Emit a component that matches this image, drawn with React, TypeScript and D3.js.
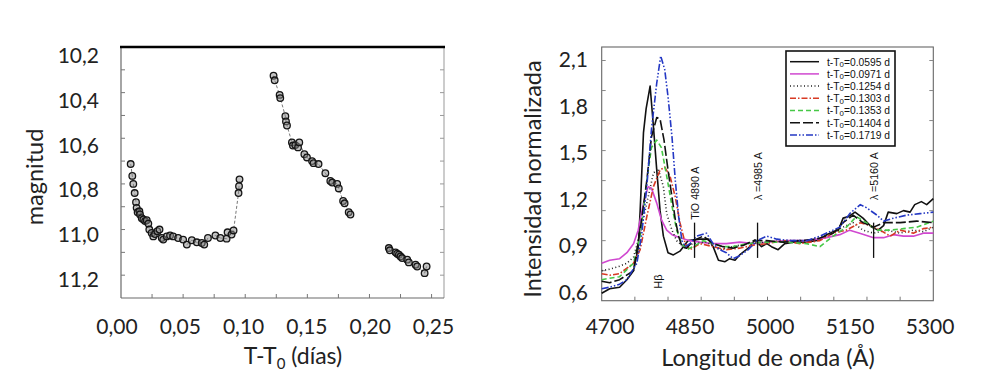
import React from "react";
import { scaleLinear, line, range } from "d3";

// light curve, three observing runs (T-T0 in days, magnitude)
const run1T = [0.0078, 0.0091, 0.0099, 0.011, 0.0121, 0.0126, 0.0134, 0.0148, 0.0153, 0.0167, 0.018, 0.0194, 0.0207, 0.022, 0.0228, 0.0247, 0.026, 0.0274, 0.0293, 0.031, 0.0328, 0.034, 0.0368, 0.0395, 0.042, 0.046, 0.05, 0.053, 0.057, 0.061, 0.065, 0.067, 0.07, 0.076, 0.08, 0.085, 0.0858, 0.089, 0.0906, 0.0946, 0.095, 0.0954];
const run1M = [10.713, 10.765, 10.8, 10.84, 10.88, 10.905, 10.924, 10.92, 10.934, 10.95, 10.956, 10.963, 10.959, 10.974, 11.0, 11.015, 11.03, 11.02, 11.007, 11.0, 11.037, 11.044, 11.03, 11.026, 11.03, 11.037, 11.044, 11.066, 11.047, 11.056, 11.059, 11.066, 11.037, 11.026, 11.037, 11.04, 11.012, 11.022, 11.004, 10.84, 10.81, 10.78];
const run2T = [0.1228, 0.1237, 0.1277, 0.1282, 0.1323, 0.1328, 0.1336, 0.1376, 0.1384, 0.1403, 0.1425, 0.1435, 0.1476, 0.1497, 0.1538, 0.155, 0.159, 0.1645, 0.1685, 0.17, 0.174, 0.1753, 0.1788, 0.18, 0.1833, 0.1847];
const run2M = [10.326, 10.346, 10.41, 10.424, 10.503, 10.526, 10.544, 10.618, 10.632, 10.63, 10.64, 10.618, 10.67, 10.684, 10.7, 10.709, 10.713, 10.753, 10.787, 10.794, 10.8, 10.82, 10.875, 10.885, 10.924, 10.934];
const run3T = [0.2156, 0.2164, 0.221, 0.2223, 0.2237, 0.225, 0.2263, 0.2304, 0.2317, 0.2371, 0.2384, 0.2444, 0.246];
const run3M = [11.081, 11.091, 11.1, 11.106, 11.11, 11.118, 11.125, 11.132, 11.144, 11.154, 11.162, 11.191, 11.162];

const lcYTicks = [10.2, 10.4, 10.6, 10.8, 11.0, 11.2];
const lcXTicks = [0, 0.05, 0.1, 0.15, 0.2, 0.25];

// spectra (wavelength in A, normalized intensity)
const wl0595 = [4750, 4762, 4777, 4788, 4798, 4805, 4808, 4813, 4817, 4823, 4828, 4833, 4838, 4843, 4850, 4858, 4868, 4880, 4898, 4911, 4918, 4926, 4936, 4943, 4951, 4958, 4971, 4981, 4991, 4999, 5006, 5016, 5026, 5039, 5059, 5079, 5089, 5099, 5107, 5114, 5122, 5132, 5144, 5157, 5167, 5175, 5182, 5195, 5205, 5215, 5222, 5232, 5240, 5250];
const in0595 = [0.65, 0.68, 0.69, 0.74, 0.8, 0.95, 1.2, 1.72, 1.88, 2.03, 1.76, 1.47, 1.2, 1.03, 0.92, 0.905, 0.93, 1.0, 1.01, 1.01, 0.96, 0.87, 0.86, 0.88, 0.87, 0.905, 0.95, 1.005, 0.96, 0.98, 0.96, 0.94, 0.98, 0.99, 0.99, 1.005, 1.04, 1.06, 1.07, 1.15, 1.16, 1.19, 1.15, 1.09, 1.07, 1.1, 1.19, 1.18, 1.2, 1.19, 1.24, 1.26, 1.24, 1.28];
const wl0971 = [4750, 4762, 4777, 4788, 4798, 4805, 4813, 4820, 4825, 4833, 4840, 4848, 4856, 4868, 4883, 4898, 4918, 4938, 4958, 4979, 4999, 5029, 5059, 5089, 5109, 5124, 5139, 5160, 5175, 5190, 5205, 5220, 5235, 5250];
const in0971 = [0.85, 0.87, 0.88, 0.92, 0.98, 1.07, 1.25, 1.36, 1.35, 1.25, 1.14, 1.07, 1.04, 1.02, 1.0, 0.99, 0.98, 0.98, 0.99, 0.98, 0.99, 1.0, 1.0, 1.02, 1.04, 1.07, 1.05, 1.02, 1.02, 1.04, 1.03, 1.03, 1.05, 1.05];
const wl1254 = [4750, 4762, 4777, 4788, 4798, 4808, 4818, 4828, 4835, 4843, 4848, 4856, 4863, 4873, 4888, 4908, 4928, 4948, 4969, 4999, 5029, 5059, 5089, 5114, 5129, 5144, 5160, 5180, 5200, 5220, 5235, 5250];
const in1254 = [0.8, 0.81, 0.83, 0.85, 0.89, 1.05, 1.25, 1.45, 1.48, 1.36, 1.18, 1.07, 1.0, 0.96, 0.98, 0.99, 0.94, 0.96, 0.98, 0.99, 1.0, 1.0, 1.03, 1.09, 1.12, 1.07, 1.05, 1.07, 1.05, 1.07, 1.06, 1.09];
const wl1303 = [4750, 4762, 4777, 4798, 4808, 4818, 4828, 4838, 4845, 4853, 4861, 4868, 4876, 4883, 4898, 4918, 4938, 4958, 4979, 4999, 5024, 5049, 5079, 5099, 5119, 5140, 5155, 5170, 5185, 5200, 5220, 5235, 5250];
const in1303 = [0.78, 0.77, 0.78, 0.85, 0.94, 1.16, 1.36, 1.47, 1.49, 1.43, 1.29, 1.12, 0.98, 0.94, 0.98, 0.96, 0.94, 0.95, 0.97, 0.98, 1.0, 0.98, 1.0, 1.05, 1.07, 1.12, 1.1, 1.07, 1.03, 1.07, 1.05, 1.08, 1.09];
const wl1353 = [4750, 4762, 4777, 4798, 4808, 4818, 4825, 4833, 4840, 4848, 4856, 4863, 4871, 4878, 4888, 4903, 4918, 4933, 4948, 4969, 4999, 5029, 5059, 5079, 5099, 5119, 5134, 5149, 5165, 5185, 5205, 5225, 5250];
const in1353 = [0.74, 0.75, 0.76, 0.85, 1.03, 1.4, 1.62, 1.67, 1.62, 1.43, 1.23, 1.07, 0.98, 0.94, 0.96, 1.0, 0.98, 0.96, 0.96, 0.98, 0.99, 0.99, 0.98, 0.96, 1.03, 1.09, 1.16, 1.12, 1.07, 1.07, 1.08, 1.09, 1.13];
const wl1404 = [4750, 4762, 4777, 4798, 4808, 4818, 4825, 4833, 4838, 4844, 4850, 4856, 4861, 4866, 4871, 4878, 4888, 4903, 4918, 4933, 4948, 4964, 4979, 4999, 5024, 5049, 5074, 5099, 5114, 5129, 5144, 5160, 5175, 5200, 5225, 5250];
const in1404 = [0.73, 0.72, 0.74, 0.8, 1.07, 1.4, 1.69, 1.82, 1.81, 1.67, 1.47, 1.29, 1.14, 1.03, 0.96, 0.95, 1.0, 1.03, 0.98, 0.96, 0.95, 0.97, 1.0, 1.0, 0.99, 1.0, 1.01, 1.05, 1.12, 1.17, 1.12, 1.09, 1.12, 1.12, 1.13, 1.12];
const wl1719 = [4750, 4762, 4777, 4788, 4803, 4810, 4818, 4825, 4833, 4839, 4845, 4850, 4856, 4861, 4866, 4871, 4876, 4883, 4893, 4908, 4918, 4928, 4938, 4948, 4958, 4971, 4984, 4999, 5014, 5034, 5059, 5079, 5099, 5109, 5124, 5140, 5149, 5165, 5175, 5190, 5210, 5230, 5250];
const in1719 = [0.68, 0.69, 0.71, 0.74, 0.85, 1.03, 1.36, 1.74, 2.05, 2.23, 2.14, 1.96, 1.69, 1.4, 1.16, 1.0, 0.96, 0.98, 1.03, 1.05, 0.98, 0.94, 0.92, 0.88, 0.9, 0.94, 1.0, 1.03, 1.01, 1.0, 1.0, 1.03, 1.07, 1.09, 1.18, 1.24, 1.22, 1.17, 1.13, 1.15, 1.17, 1.18, 1.19];

const epochs = ["0.0595", "0.0971", "0.1254", "0.1303", "0.1353", "0.1404", "0.1719"];
const specYTicks = [0.6, 0.9, 1.2, 1.5, 1.8, 2.1];
const specXTicks = [4700, 4850, 5000, 5150, 5300];

// marked features
const featureWl = [4890, 4985, 5160];
const featureText = ["TiO 4890 A", "\u03bb =4985 A", "\u03bb =5160 A"];

const series = [
  { wl: wl0595, v: in0595, color: "#111", dash: "none" },
  { wl: wl0971, v: in0971, color: "#d048d0", dash: "none" },
  { wl: wl1254, v: in1254, color: "#222", dash: "1,2.5" },
  { wl: wl1303, v: in1303, color: "#d83a24", dash: "6,2,1.5,2" },
  { wl: wl1353, v: in1353, color: "#46c846", dash: "5,3" },
  { wl: wl1404, v: in1404, color: "#111", dash: "10,3" },
  { wl: wl1719, v: in1719, color: "#2438c4", dash: "7,2,1.5,2,1.5,2" },
];

const FONT = "Lato, 'Open Sans', sans-serif";
const NARROW = "'Liberation Sans Narrow', 'Liberation Sans', Arial, sans-serif";

function LightCurve() {
  const x = scaleLinear().domain([0, 0.26]).range([121, 444]);
  const y = scaleLinear().domain([10.2, 11.3]).range([47, 298]);
  // the printed labels sit slightly off the ticks
  const xLab = scaleLinear().domain([0, 0.25]).range([117, 433.5]);
  const yLab = scaleLinear().domain([10.2, 11.2]).range([56, 279.5]);
  const runs = [
    [run1T, run1M],
    [run2T, run2M],
    [run3T, run3M],
  ];
  const path = line<number>()
    .x((d) => x(d[0]))
    .y((d) => y(d[1]));
  const yMinor = range(10.3, 11.25, 0.1);
  const xMinor = range(0.025, 0.26, 0.025);
  return (
    <g>
      <line x1={x(0)} x2={x(0)} y1={y(10.2)} y2={y(11.3)} stroke="#6a6a6a" strokeWidth={1.2} />
      <line x1={x(0.26)} x2={x(0.26)} y1={y(10.2)} y2={y(11.3)} stroke="#999" strokeWidth={1} />
      <line x1={x(0)} x2={x(0.26)} y1={y(11.3)} y2={y(11.3)} stroke="#6a6a6a" strokeWidth={1.2} />
      <line x1={x(0) - 1} x2={x(0.26) + 1} y1={y(10.2)} y2={y(10.2)} stroke="#000" strokeWidth={2.4} />
      {yMinor.map((v, i) => (
        <g key={"ym" + i}>
          <line x1={x(0)} x2={x(0) + 4} y1={y(v)} y2={y(v)} stroke="#777" />
          <line x1={x(0.26)} x2={x(0.26) - 4} y1={y(v)} y2={y(v)} stroke="#999" />
        </g>
      ))}
      {xMinor.map((v, i) => (
        <line key={"xm" + i} x1={x(v)} x2={x(v)} y1={y(11.3)} y2={y(11.3) - 4} stroke="#777" />
      ))}
      {runs.map(([ts, ms], i) => (
        <path
          key={"l" + i}
          d={path(ts.map((t, j) => [t, ms[j]])) || ""}
          fill="none"
          stroke="#555"
          strokeWidth={0.8}
          strokeDasharray="3,2"
        />
      ))}
      {runs.map(([ts, ms], i) =>
        ts.map((t, j) => (
          <circle
            key={"c" + i + "-" + j}
            cx={x(t)}
            cy={y(ms[j])}
            r={3.3}
            fill="#888"
            fillOpacity={0.5}
            stroke="#151515"
            strokeWidth={1.3}
          />
        ))
      )}
      {lcYTicks.map((v) => (
        <text key={"yl" + v} x={99} y={yLab(v)} dy="0.35em" textAnchor="end" fontFamily={FONT} fontSize={21} fill="#222">
          {v.toFixed(1).replace(".", ",")}
        </text>
      ))}
      {lcXTicks.map((v) => (
        <text key={"xl" + v} x={xLab(v)} y={334} textAnchor="middle" fontFamily={FONT} fontSize={21} fill="#222">
          {v.toFixed(2).replace(".", ",")}
        </text>
      ))}
      <text x={293} y={364} textAnchor="middle" fontFamily={FONT} fontSize={23} fill="#222">
        T-T<tspan fontSize={15} dy={5}>0</tspan>
        <tspan dy={-5}> (días)</tspan>
      </text>
      <text transform="translate(43,177) rotate(-90)" textAnchor="middle" fontFamily={FONT} fontSize={23.5} fill="#222">
        magnitud
      </text>
    </g>
  );
}

function Spectra() {
  const x = scaleLinear().domain([4750, 5250]).range([601.7, 933.3]);
  const y = scaleLinear().domain([0.6, 2.29]).range([300.7, 47]);
  // overlaid labels of the figure do not sit on the original ticks
  const xLab = scaleLinear().domain([4700, 5300]).range([610, 930]);
  const yLab = scaleLinear().domain([0.6, 2.1]).range([292.5, 60]);
  const path = line<number>()
    .x((d) => x(d[0]))
    .y((d) => y(d[1]));
  const xMinor = range(4800, 5250, 50);
  const yMinor = range(0.8, 2.25, 0.2);
  const legX = 786;
  const legY = 51;
  return (
    <g>
      <rect x={x(4750)} y={y(2.29)} width={x(5250) - x(4750)} height={y(0.6) - y(2.29)} fill="none" stroke="#666" strokeWidth={1.1} />
      {xMinor.map((v) => (
        <line key={"xm" + v} x1={x(v)} x2={x(v)} y1={y(0.6)} y2={y(0.6) - 4} stroke="#777" />
      ))}
      {yMinor.map((v, i) => (
        <g key={"ym" + i}>
          <line x1={x(4750)} x2={x(4750) + 4} y1={y(v)} y2={y(v)} stroke="#888" />
          <line x1={x(5250)} x2={x(5250) - 4} y1={y(v)} y2={y(v)} stroke="#888" />
        </g>
      ))}
      {series.map((s, i) => (
        <path
          key={"s" + i}
          d={path(s.wl.map((w, j) => [w, s.v[j]])) || ""}
          fill="none"
          stroke={s.color}
          strokeWidth={1.6}
          strokeDasharray={s.dash}
          strokeLinejoin="round"
        />
      ))}
      {featureWl.map((w, i) => (
        <g key={"f" + w}>
          <line x1={x(w)} x2={x(w)} y1={y(1.12)} y2={y(0.885)} stroke="#111" strokeWidth={1.3} />
          <text
            transform={`translate(${x(w) + 4},${i === 0 ? y(1.14) : y(1.27)}) rotate(-90)`}
            fontFamily={NARROW}
            fontSize={11}
            textLength={i === 0 ? 53 : 48}
            lengthAdjust="spacingAndGlyphs"
            fill="#111"
          >
            {featureText[i]}
          </text>
        </g>
      ))}
      <text transform={`translate(${x(4835) + 4},${y(0.68)}) rotate(-90)`} fontFamily={NARROW} fontSize={11} fill="#111">
        Hβ
      </text>
      <rect x={legX} y={legY} width={109} height={95} fill="#fff" stroke="#111" strokeWidth={1.6} />
      {epochs.map((e, i) => (
        <g key={"lg" + e}>
          <line
            x1={legX + 4}
            x2={legX + 33}
            y1={legY + 10.7 + i * 12.2}
            y2={legY + 10.7 + i * 12.2}
            stroke={series[i].color}
            strokeWidth={1.5}
            strokeDasharray={series[i].dash}
          />
          <text
            x={legX + 41}
            y={legY + 14.5 + i * 12.2}
            fontFamily={NARROW}
            fontSize={10.5}
            textLength={63}
            lengthAdjust="spacingAndGlyphs"
            fill="#111"
          >
            t-T<tspan fontSize={8} dy={1.5}>0</tspan>
            <tspan dy={-1.5}>={e} d</tspan>
          </text>
        </g>
      ))}
      {specYTicks.map((v) => (
        <text key={"yl" + v} x={588} y={yLab(v)} dy="0.35em" textAnchor="end" fontFamily={FONT} fontSize={21} fill="#222">
          {v.toFixed(1).replace(".", ",")}
        </text>
      ))}
      {specXTicks.map((v) => (
        <text key={"xl" + v} x={xLab(v)} y={334} textAnchor="middle" fontFamily={FONT} fontSize={21} fill="#222">
          {v}
        </text>
      ))}
      <text x={768} y={366} textAnchor="middle" fontFamily={FONT} fontSize={23.5} fill="#222">
        Longitud de onda (Å)
      </text>
      <text transform="translate(541,179) rotate(-90)" textAnchor="middle" fontFamily={FONT} fontSize={23.5} fill="#222">
        Intensidad normalizada
      </text>
    </g>
  );
}

export default function App() {
  return (
    <svg
      width={1000}
      height={387}
      style={{ position: "absolute", left: 0, top: 0, background: "#fff" }}
    >
      <LightCurve />
      <Spectra />
    </svg>
  );
}
